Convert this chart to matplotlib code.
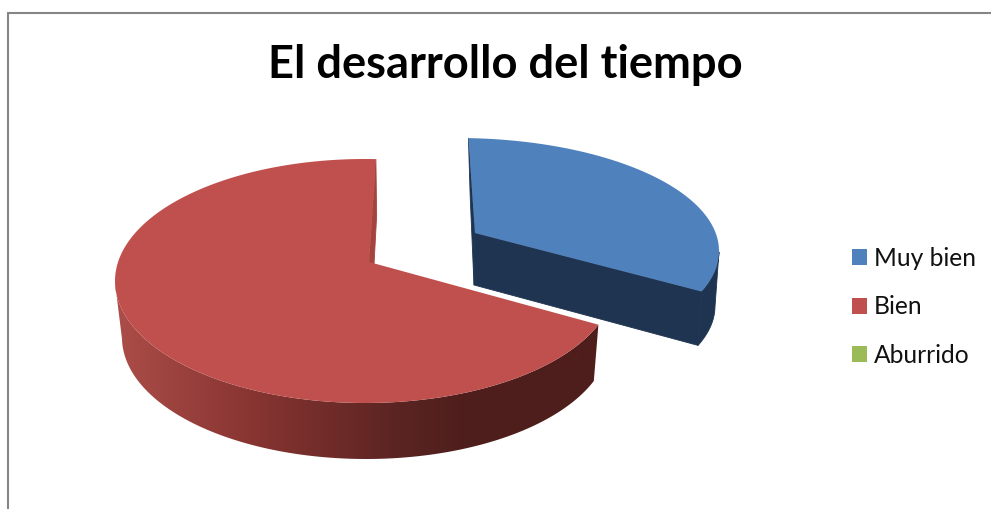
"""Exploded 3D-style pie chart with a gradient rim and a side legend."""

import numpy as np
import matplotlib

matplotlib.use("Agg")
import matplotlib.pyplot as plt
from matplotlib.patches import Patch, Polygon

TITLE = "El desarrollo del tiempo"
categories = ["Muy bien", "Bien", "Aburrido"]
values = [1, 2, 0]

top_colors = ["#4f81bd", "#c0504d", "#9bbb59"]
wall_colors = ["#1f3450", "#a5443f", "#5f7530"]

# rim shading of the red slice, by canvas x
shade_x = [122, 250, 400, 470, 600]
shade_rgb = np.array([[170, 76, 71], [136, 53, 50], [90, 36, 34], [78, 30, 28], [78, 30, 28]]) / 255

# (cx, cy, rx, ry) of top and bottom rims, then the slice apex top and bottom
rings = {
    0: ((457, 251, 262, 113), (459, 306, 256, 110), (475, 233), (474, 285)),
    1: ((365, 281, 250, 122), (366, 337.5, 244, 121.5), (369, 262), (371, 320)),
}


def rim(turn, ring):
    """Project a pie angle (degrees) onto a foreshortened ellipse."""
    cx, cy, rx, ry = ring
    t = np.radians(turn)
    param = t + np.radians(2.5) - np.radians(13.3) * np.sin(t)
    return np.column_stack([cx + rx * np.sin(param), cy - ry * np.cos(param)])


def draw_side(ax, band, i):
    """Fill the visible rim band, flat for blue, shaded along x for red."""
    if i == 0:
        ax.fill(band[:, 0], band[:, 1], color=wall_colors[0], lw=0.6, zorder=2)
        return
    xs = np.arange(shade_x[0] - 10, shade_x[-1] + 10)
    strip = np.stack([np.interp(xs, shade_x, shade_rgb[:, c]) for c in range(3)], axis=-1)[None, :, :]
    image = ax.imshow(strip, extent=(xs[0], xs[-1], 480, 200), aspect="auto", zorder=3)
    image.set_clip_path(Polygon(band, closed=True, transform=ax.transData))


def draw_slice(ax, i, start, end):
    top, bottom, apex_top, apex_bottom = rings[i]
    turns = np.linspace(start, end, 241)
    top_rim = rim(turns, top)
    bottom_rim = rim(turns, bottom)

    # the cut at the clockwise end only shows on the blue slice
    cuts = [(top_rim[-1], bottom_rim[-1])]
    if i == 0:
        cuts.append((top_rim[0], bottom_rim[0]))
    for rim_top, rim_bottom in cuts:
        face = np.array([apex_top, rim_top, rim_bottom, apex_bottom])
        ax.fill(face[:, 0], face[:, 1], color=wall_colors[i], lw=0.6, zorder=2 + i)

    front = top_rim[:, 1] > top[1]
    draw_side(ax, np.vstack([top_rim[front], bottom_rim[front][::-1]]), i)

    outline = np.vstack([[apex_top], top_rim])
    ax.fill(outline[:, 0], outline[:, 1], color=top_colors[i], lw=0, zorder=3.5 + i)


fig = plt.figure(figsize=(9.91, 5.09), dpi=100)
ax = fig.add_axes([0, 0, 1, 1])
ax.axis("off")

# chart area border, only top and left fall inside the canvas
ax.plot([8, 8, 991], [509, 13, 13], color="#868686", lw=1.5, solid_joinstyle="miter", zorder=1)

shares = np.array(values, dtype=float) / sum(values) * 360
edges = np.concatenate([[0], np.cumsum(shares)])
for i, share in enumerate(shares):
    if share > 0:
        draw_slice(ax, i, edges[i], edges[i + 1])

ax.set_xlim(0, 991)
ax.set_ylim(509, 0)

ax.text(505, 65, TITLE, family="Lato", weight="bold", fontsize=32.6, color="black",
        ha="center", va="center")

handles = [Patch(facecolor=c, edgecolor="none") for c in top_colors]
ax.legend(handles, categories, loc="upper left", bbox_to_anchor=(852, 247),
          bbox_transform=ax.transData, frameon=False, borderpad=0, borderaxespad=0,
          prop={"family": "Lato", "size": 17.7}, labelcolor="#111111",
          handlelength=0.61, handleheight=0.61, handletextpad=0.27, labelspacing=1.03)

fig.savefig("out.png", dpi=100)
